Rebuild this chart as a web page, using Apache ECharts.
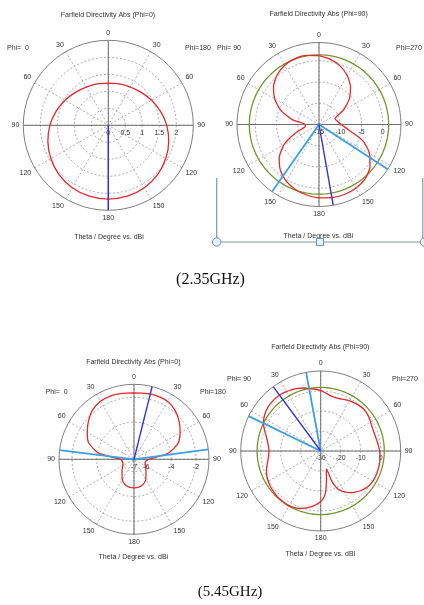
<!DOCTYPE html>
<html>
<head>
<meta charset="utf-8">
<script src="https://cdn.jsdelivr.net/npm/echarts@6/dist/echarts.min.js"></script>
<style>
html, body { margin: 0; padding: 0; background: #fff; }
#chart { width: 424px; height: 605px; }
</style>
</head>
<body>
<div id="chart"></div>
<script>
// ---- Farfield directivity cuts (dBi), theta measured from the top on each half ----

// 2.35 GHz, Phi=0 / Phi=180 cut
const theta1 = [0, 15, 30, 45, 60, 75, 90, 105, 120, 135, 150, 165, 180];
const dir1Phi0   = [1.24, 1.26, 1.30, 1.37, 1.47, 1.59, 1.72, 1.84, 1.95, 2.05, 2.12, 2.16, 2.17];
const dir1Phi180 = [1.24, 1.26, 1.30, 1.37, 1.47, 1.59, 1.72, 1.84, 1.95, 2.05, 2.12, 2.16, 2.17];

// 2.35 GHz, Phi=90 / Phi=270 cut
const theta2 = [0, 10, 20, 30, 40, 50, 60, 70, 80, 90, 100, 110, 120, 130, 140, 150, 160, 170, 180];
const dir2Phi90  = [1.19, 1.5, 1.49, 1.12, 0.29, -1.02, -2.96, -5.5, -8.7, -11.8, -11.6, -9.1, -5.47, -2.77, -0.88, 0.41, 1.28, 1.85, 2.25];
const dir2Phi270 = [1.19, 0.57, -0.38, -1.7, -3.46, -5.7, -8.5, -11.0, -10.6, -9.8, -8.0, -4.1, -1.26, 0.67, 1.8, 2.35, 2.53, 2.48, 2.25];

// 5.45 GHz, Phi=0 / Phi=180 cut
const theta3 = [0, 10, 20, 30, 40, 50, 60, 70, 80, 90, 100, 110, 120, 130, 140, 150, 160, 170, 180];
const dir3Phi0   = [-1.64, -1.6, -1.55, -1.6, -1.8, -2.2, -2.65, -3.1, -4.1, -5.9, -6.05, -6.05, -5.95, -5.75, -5.5, -5.1, -4.85, -4.72, -4.7];
const dir3Phi180 = [-1.64, -1.6, -1.55, -1.6, -1.85, -2.25, -2.7, -3.2, -4.2, -5.8, -6.05, -6.05, -5.95, -5.75, -5.5, -5.1, -4.85, -4.72, -4.7];

// 5.45 GHz, Phi=90 / Phi=270 cut
const theta4L = [0, 5, 10, 15, 20, 25, 30, 35, 40, 45, 50, 55, 60, 65, 70, 75, 80, 85, 90,
                 95, 100, 105, 110, 115, 120, 125, 130, 135, 140, 145, 150, 155, 160, 165, 170, 175, 180];
const dir4Phi90 = [0.3, 1.0, 1.7, 2.6, 3.3, 3.9, 4.3, 4.6, 4.7, 4.6, 4.3, 3.7, 2.8, 1.6, -0.2, -1.8, -3.0, -3.8, -4.1,
                   -3.9, -3.2, -2.2, -1.1, -0.3, 0.3, 0.8, 1.1, 1.35, 1.5, 1.6, 1.55, 1.25, 0.6, -0.4, -1.6, -3.0, -4.7];
const theta4R = [0, 5, 10, 15, 20, 25, 30, 35, 40, 45, 50, 55, 60, 65, 70, 75, 80, 85, 90,
                 95, 100, 105, 110, 115, 120, 125, 130, 135, 140, 145, 150, 155, 158, 160, 162, 164, 166, 168,
                 170, 172, 174, 176, 178, 180];
const dir4Phi270 = [0.3, -0.9, -1.9, -2.3, -2.2, -1.6, -1.1, -0.6, -0.2, 0.0, -0.2, -0.6, -1.2, -1.6, -1.8, -1.7, -1.4, -1.0, -0.5,
                    -0.2, 0.0, 0.1, 0.2, 0.25, 0.15, -0.2, -0.9, -1.9, -3.2, -4.6, -6.4, -8.7, -11.3, -14.5, -20.5, -19.8, -18.3, -16,
                    -13.7, -11, -8.6, -6.8, -5.6, -4.7];

// radial scale ticks of each plot
const ticks1 = [0, 0.5, 1, 1.5, 2];
const ticks2 = [-15, -10, -5, 0];
const ticks3 = [-7, -6, -4, -2];
const ticks4 = [-30, -20, -10, 0];

// side lobe level circles (green)
const sll2 = 1.4;
const sll4 = 1.8;

// main lobe direction and 3 dB angular width markers: [theta, half]
const main1 = [[180, 'R']];
const main2 = [[170, 'R']];
const width2 = [[123, 'R'], [145, 'L']];
const main3 = [[14, 'R']];
const width3 = [[82.9, 'L'], [82.4, 'R']];
const main4 = [[36.4, 'L']];
const width4 = [[10.5, 'L'], [64.2, 'L']];

// ---- layout and styling ----
const FONT = '"Liberation Sans", Arial, sans-serif';
const TXT = '#333';
const RED = '#e8262c';
const BLUE = '#3434dc';
const LBLUE = '#3d9fe6';
const GREEN = '#73962e';

const plots = [
  { center: [108.3, 125.3], radius: 85, min: 0, max: 2.5, interval: 0.5, ticks: ticks1,
    curves: [[theta1, dir1Phi180], [theta1, dir1Phi0]], sll: null, smooth: 0.3,
    main: main1, width: [] },
  { center: [319, 124.5], radius: 82, min: -15, max: 4.3, interval: 5, ticks: ticks2,
    curves: [[theta2, dir2Phi270], [theta2, dir2Phi90]], sll: sll2, smooth: 0.2,
    main: main2, width: width2 },
  { center: [134, 459.3], radius: 75, min: -7, max: -0.95, interval: 1, ticks: ticks3,
    curves: [[theta3, dir3Phi180], [theta3, dir3Phi0]], sll: null, smooth: 0.2,
    main: main3, width: width3 },
  { center: [320.7, 451], radius: 80, min: -30, max: 10, interval: 10, ticks: ticks4,
    curves: [[theta4R, dir4Phi270], [theta4L, dir4Phi90]], sll: sll4, smooth: 0.1,
    main: main4, width: width4 }
];

// theta on the clockwise (R) or counter-clockwise (L) half -> angle axis value
// (the angle axis starts at east and runs clockwise)
function axisAngle(theta, half) {
  const a = half === 'R' ? theta : 360 - theta;
  return (a + 270) % 360;
}

// angles used to trace full circles
const ring = [];
for (let a = 0; a <= 360; a += 4) ring.push(a);

const polar = [], angleAxis = [], radiusAxis = [], series = [];

plots.forEach((p, i) => {
  polar.push({ center: p.center, radius: p.radius });
  angleAxis.push({
    polarIndex: i, type: 'value', min: 0, max: 360, interval: 30,
    startAngle: 0, clockwise: true,
    axisLine: { lineStyle: { color: '#808080', width: 1 } },
    axisTick: { show: false },
    axisLabel: {
      margin: 4, fontSize: 7, color: TXT, fontFamily: FONT,
      formatter: v => { const a = (v + 90) % 360; return String(a <= 180 ? a : 360 - a); }
    },
    splitLine: { lineStyle: { color: '#8a8a8a', width: 0.7, type: [2, 2] } }
  });
  radiusAxis.push({
    polarIndex: i, type: 'value', min: p.min, max: p.max, interval: p.interval,
    axisLine: { show: false }, axisTick: { show: false }, splitLine: { show: false },
    axisLabel: {
      margin: -4, fontSize: 7, color: TXT, fontFamily: FONT,
      verticalAlign: 'top', align: 'center',
      formatter: v => p.ticks.some(t => Math.abs(t - v) < 1e-6) ? String(v) : ''
    }
  });

  const base = { type: 'line', coordinateSystem: 'polar', polarIndex: i,
                 symbol: 'none', silent: true, animation: false };

  // dashed level rings
  p.ticks.filter(t => t > p.min).forEach(t => {
    series.push(Object.assign({}, base, {
      data: ring.map(a => [t, a]),
      lineStyle: { color: '#8a8a8a', width: 0.7, type: [2, 2] }, z: 1
    }));
  });
  // solid cross through the centre
  [[0, 180], [90, 270]].forEach(([a, b]) => {
    series.push(Object.assign({}, base, {
      data: [[p.max, a], [p.max, b]],
      lineStyle: { color: '#707070', width: 1 }, z: 2
    }));
  });
  // side lobe level
  if (p.sll !== null) {
    series.push(Object.assign({}, base, {
      data: ring.map(a => [p.sll, a]),
      lineStyle: { color: GREEN, width: 1.3 }, z: 3
    }));
  }
  // pattern: clockwise half top to bottom, then the other half back up
  const pts = [];
  const [cr, cl] = p.curves;
  cr[0].forEach((t, k) => pts.push([cr[1][k], axisAngle(t, 'R')]));
  for (let k = cl[0].length - 2; k >= 0; k--) pts.push([cl[1][k], axisAngle(cl[0][k], 'L')]);
  series.push(Object.assign({}, base, {
    data: pts, smooth: p.smooth,
    lineStyle: { color: RED, width: 1.3 }, z: 5
  }));
  // 3 dB width markers
  p.width.forEach(([t, h]) => {
    series.push(Object.assign({}, base, {
      data: [[p.min, axisAngle(t, h)], [p.max, axisAngle(t, h)]],
      lineStyle: { color: LBLUE, width: 1.8 }, z: 6
    }));
  });
  // main lobe direction
  p.main.forEach(([t, h]) => {
    series.push(Object.assign({}, base, {
      data: [[p.min, axisAngle(t, h)], [p.max, axisAngle(t, h)]],
      lineStyle: { color: BLUE, width: 1.4 }, z: 7
    }));
  });
});

// ---- texts around each plot ----
function txt(x, y, s, align) {
  return {
    type: 'text', x: x, y: y, silent: true,
    style: { text: s, fill: TXT, font: '7px ' + FONT, textAlign: align || 'center', textVerticalAlign: 'middle' }
  };
}

const graphic = [
  txt(108, 15, 'Farfield Directivity Abs (Phi=0)'),
  txt(7, 48.3, 'Phi=  0', 'left'),
  txt(185, 48.3, 'Phi=180', 'left'),
  txt(109, 236.7, 'Theta / Degree vs. dBi'),

  txt(318.7, 14, 'Farfield Directivity Abs (Phi=90)'),
  txt(217, 47.7, 'Phi= 90', 'left'),
  txt(396, 47.7, 'Phi=270', 'left'),
  txt(318.3, 236, 'Theta / Degree vs. dBi'),

  txt(133.3, 362.3, 'Farfield Directivity Abs (Phi=0)'),
  txt(45.7, 391.7, 'Phi=  0', 'left'),
  txt(200, 391.7, 'Phi=180', 'left'),
  txt(133.3, 557.3, 'Theta / Degree vs. dBi'),

  txt(320.3, 347.3, 'Farfield Directivity Abs (Phi=90)'),
  txt(227, 379.3, 'Phi= 90', 'left'),
  txt(392, 379.3, 'Phi=270', 'left'),
  txt(320.3, 554, 'Theta / Degree vs. dBi'),

  { type: 'text', x: 210.5, y: 280, silent: true,
    style: { text: '(2.35GHz)', fill: '#111', font: '16px "Liberation Serif", "Times New Roman", serif',
             textAlign: 'center', textVerticalAlign: 'middle' } },
  { type: 'text', x: 230, y: 592, silent: true,
    style: { text: '(5.45GHz)', fill: '#111', font: '15px "Liberation Serif", "Times New Roman", serif',
             textAlign: 'center', textVerticalAlign: 'middle' } },

  // selection frame with handles
  { type: 'polyline', silent: true, z: 20,
    shape: { points: [[216.7, 178], [216.7, 242], [424, 242]] },
    style: { stroke: '#8797a3', lineWidth: 1.2, fill: null } },
  { type: 'line', silent: true, z: 20,
    shape: { x1: 422.8, y1: 178, x2: 422.8, y2: 242 },
    style: { stroke: '#8797a3', lineWidth: 1.2 } },
  { type: 'circle', silent: true, z: 21,
    shape: { cx: 216.7, cy: 242, r: 4.2 },
    style: { fill: '#e4f1f7', stroke: '#7690a0', lineWidth: 1 } },
  { type: 'circle', silent: true, z: 21,
    shape: { cx: 424.5, cy: 242, r: 4.2 },
    style: { fill: '#e4f1f7', stroke: '#7690a0', lineWidth: 1 } },
  { type: 'rect', silent: true, z: 21,
    shape: { x: 316.5, y: 238.5, width: 7, height: 7 },
    style: { fill: '#e4f1f7', stroke: '#7690a0', lineWidth: 1 } }
];

const chart = echarts.init(document.getElementById('chart'), null, { renderer: 'canvas' });
chart.setOption({
  backgroundColor: '#fff',
  animation: false,
  polar: polar,
  angleAxis: angleAxis,
  radiusAxis: radiusAxis,
  series: series,
  graphic: graphic
});
</script>
</body>
</html>
